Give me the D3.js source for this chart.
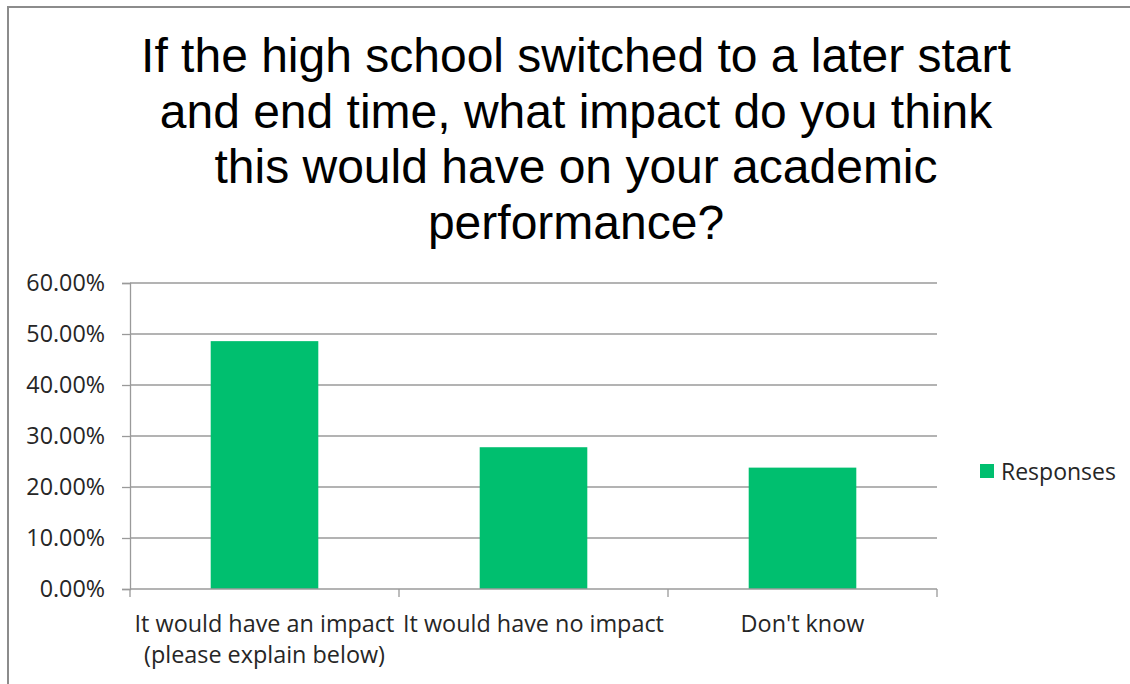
<!DOCTYPE html>
<html>
<head>
<meta charset="utf-8">
<script src="https://cdn.jsdelivr.net/npm/d3@7"></script>
<style>
    body { margin: 0; background: #fff; }
    svg { display: block; }
    .tick-text { font-family: "Open Sans", sans-serif; fill: #262626; }
</style>
</head>
<body>
<div id="output-container"></div>
<script>
const categories = [
    "It would have an impact (please explain below)",
    "It would have no impact",
    "Don't know"
];
const responses = [0.486, 0.278, 0.238];
const yTicks = [0, 0.1, 0.2, 0.3, 0.4, 0.5, 0.6];
const seriesName = "Responses";
const titleLines = [
    "If the high school switched to a later start",
    "and end time, what impact do you think",
    "this would have on your academic",
    "performance?"
];

const width = 1130, height = 684;
const plot = { left: 130, right: 937, top: 283, bottom: 589 };
const green = "#00bf6f";
const gridColor = "#9a9a9a";

const svg = d3.select("#output-container")
    .append("svg")
    .attr("width", width)
    .attr("height", height);

// outer chart frame
svg.append("rect")
    .attr("x", 8).attr("y", 7)
    .attr("width", width + 10).attr("height", height + 10)
    .attr("fill", "none")
    .attr("stroke", "#8c8c8c")
    .attr("stroke-width", 2);

// title
svg.append("g")
    .selectAll("text")
    .data(titleLines)
    .enter()
    .append("text")
    .attr("x", 576)
    .attr("y", (d, i) => 72 + i * 55.5)
    .attr("text-anchor", "middle")
    .attr("font-family", "'Liberation Sans', Arial, sans-serif")
    .attr("font-size", 48)
    .attr("fill", "#000")
    .text(d => d);

const x = d3.scaleBand()
    .domain(categories)
    .range([plot.left, plot.right])
    .paddingInner(0.6)
    .paddingOuter(0.3);

const y = d3.scaleLinear()
    .domain([0, 0.6])
    .range([plot.bottom, plot.top]);

// gridlines
svg.append("g")
    .selectAll("line")
    .data(yTicks.slice(1))
    .enter()
    .append("line")
    .attr("x1", plot.left).attr("x2", plot.right)
    .attr("y1", d => y(d)).attr("y2", d => y(d))
    .attr("stroke", gridColor)
    .attr("stroke-width", 1.3);

// y axis
const yAxis = svg.append("g")
    .attr("transform", `translate(${plot.left},0)`)
    .call(d3.axisLeft(y).tickValues(yTicks).tickFormat(d3.format(".2%")).tickSize(8).tickPadding(17));
yAxis.select(".domain").attr("stroke", gridColor).attr("stroke-width", 1.3);
yAxis.selectAll(".tick line").attr("stroke", gridColor).attr("stroke-width", 1.3);
yAxis.selectAll(".tick text")
    .attr("class", "tick-text")
    .attr("font-size", 23.3);

// bars
svg.append("g")
    .selectAll("rect")
    .data(responses)
    .enter()
    .append("rect")
    .attr("x", (d, i) => x(categories[i]))
    .attr("width", x.bandwidth())
    .attr("y", d => y(d))
    .attr("height", d => y(0) - y(d))
    .attr("fill", green);

// x axis: line plus ticks on category boundaries
const step = x.step();
const bounds = categories.map((c, i) => plot.left + i * step).concat([plot.right]);
const xAxis = svg.append("g");
xAxis.append("line")
    .attr("x1", plot.left).attr("x2", plot.right)
    .attr("y1", plot.bottom).attr("y2", plot.bottom)
    .attr("stroke", gridColor).attr("stroke-width", 1.3);
xAxis.selectAll(".bound")
    .data(bounds)
    .enter()
    .append("line")
    .attr("class", "bound")
    .attr("x1", d => d).attr("x2", d => d)
    .attr("y1", plot.bottom).attr("y2", plot.bottom + 8)
    .attr("stroke", gridColor).attr("stroke-width", 1.3);

// category labels, wrapped to the band width
const labels = xAxis.selectAll(".cat")
    .data(categories)
    .enter()
    .append("text")
    .attr("class", "tick-text")
    .attr("font-size", 23.4)
    .attr("text-anchor", "middle")
    .attr("y", plot.bottom + 43);

labels.each(function (d) {
    const text = d3.select(this);
    const cx = x(d) + x.bandwidth() / 2;
    const words = d.split(" ");
    let line = [];
    let tspan = text.append("tspan").attr("x", cx).attr("dy", 0);
    words.forEach(w => {
        line.push(w);
        tspan.text(line.join(" "));
        if (tspan.node().getComputedTextLength() > step && line.length > 1) {
            line.pop();
            tspan.text(line.join(" "));
            line = [w];
            tspan = text.append("tspan").attr("x", cx).attr("dy", 31).text(w);
        }
    });
});

// legend
const legend = svg.append("g").attr("transform", "translate(980,464)");
legend.append("rect")
    .attr("width", 14).attr("height", 14)
    .attr("fill", green);
legend.append("text")
    .attr("class", "tick-text")
    .attr("x", 21).attr("y", 7)
    .attr("dominant-baseline", "central")
    .attr("font-size", 23)
    .text(seriesName);
</script>
</body>
</html>
